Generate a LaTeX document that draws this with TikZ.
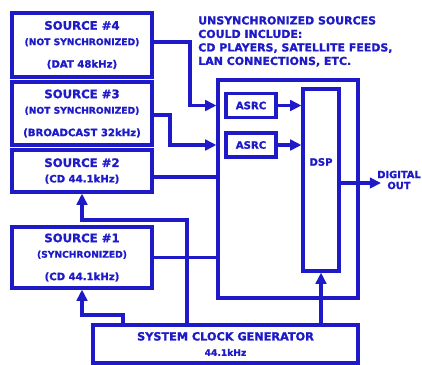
\documentclass[tikz,border=0pt]{standalone}
\usepackage{fontspec}
\setmainfont{DejaVu Sans}[BoldFeatures={FakeBold=1.2}]
\usetikzlibrary{arrows.meta,calc}
\definecolor{inkcol}{RGB}{30,26,200}
\newcommand\txtbig{\fontsize{8.3}{10}\selectfont}
\newcommand\txtmid{\fontsize{7.2}{9}\selectfont}
\newcommand\txtsmall{\fontsize{6.5}{7}\selectfont}

\begin{document}
\begin{tikzpicture}[x=0.025cm,y=-0.025cm,
  blk/.style={draw=inkcol,line width=2.2pt,inner sep=0pt,align=center,
    text=inkcol,font=\bfseries},
  wire/.style={draw=inkcol,line width=2.3pt},
  arr/.style={wire,-{Triangle[length=8pt,width=7.5pt]}}]
  \useasboundingbox[fill=white] (0,0) rectangle (422,364);
  % source boxes on the left
  \node[blk,minimum width=3.5cm,minimum height=1.6cm] (src4) at (82,45)
    {\txtbig SOURCE \#4\\[-1pt]\txtsmall (NOT SYNCHRONIZED)\\[4pt]\txtmid (DAT 48kHz)};
  \node[blk,minimum width=3.5cm,minimum height=1.575cm] (src3) at (82,113.5)
    {\txtbig SOURCE \#3\\[-1pt]\txtsmall (NOT SYNCHRONIZED)\\[4pt]\txtmid (BROADCAST 32kHz)};
  \node[blk,minimum width=3.5cm,minimum height=1.05cm] (src2) at (82,171)
    {\txtbig SOURCE \#2\\[-1pt]\txtmid (CD 44.1kHz)};
  \node[blk,minimum width=3.5cm,minimum height=1.525cm] (src1) at (82,257.5)
    {\txtbig SOURCE \#1\\[-1pt]\txtsmall (SYNCHRONIZED)\\[4pt]\txtmid (CD 44.1kHz)};
  % clock along the bottom
  \node[blk,minimum width=6.625cm,minimum height=0.95cm] (clock) at (225.5,344)
    {\fontsize{8}{9}\selectfont SYSTEM CLOCK GENERATOR\\[-1pt]\txtsmall 44.1kHz};
  % processor block
  \node[blk,minimum width=3.5cm,minimum height=5.45cm] (proc) at (288,189) {};
  \node[blk,minimum width=1.25cm,minimum height=0.59cm] (asrc1) at (251,105.5) {\txtmid ASRC};
  \node[blk,minimum width=1.25cm,minimum height=0.6cm] (asrc2) at (251,145) {\txtmid ASRC};
  \node[blk,minimum width=0.9cm,minimum height=4.55cm] (dsp) at (321,180) {};
  \node[text=inkcol,font=\bfseries\txtmid] (dsplbl) at (321,162) {DSP};
  \node[text=inkcol,font=\bfseries\fontsize{7.8}{9.6}\selectfont,align=left,
    anchor=north west,inner sep=0pt] (note) at (198,16)
    {UNSYNCHRONIZED SOURCES\\COULD INCLUDE:\\CD PLAYERS, SATELLITE FEEDS,\\LAN CONNECTIONS, ETC.};
  \node[text=inkcol,font=\bfseries\fontsize{7}{7.8}\selectfont,align=center] (outlbl) at (399,180)
    {DIGITAL\\OUT};
  \coordinate (outtip) at (381,183);
  \coordinate (bend4) at (190,42);
  \coordinate (bend3) at (170,115);
  \coordinate (tap2) at (187,220);
  \coordinate (tap1) at (123,315);
  % signal paths
  \draw[arr] (src4.east |- bend4) -- (bend4) |- (proc.west |- asrc1.west);
  \draw[arr] (src3.east |- bend3) -- (bend3) |- (proc.west |- asrc2.west);
  \draw[wire] ($(src2.east)+(0,6)$) -- ($(src2.east -| proc.west)+(0,6)$);
  \draw[wire] (src1.east) -- (src1.east -| proc.west);
  \draw[arr] (asrc1.east) -- (asrc1.east -| dsp.west);
  \draw[arr] (asrc2.east) -- (asrc2.east -| dsp.west);
  \draw[arr] (dsp.east |- outtip) -- (outtip);
  % clock paths
  \draw[arr] (tap2 |- clock.north) -- (tap2) -| (src2.south);
  \draw[arr] (tap1 |- clock.north) -- (tap1) -| (src1.south);
  \draw[arr] (clock.north -| dsp.south) -- (dsp.south);
\end{tikzpicture}
\end{document}
